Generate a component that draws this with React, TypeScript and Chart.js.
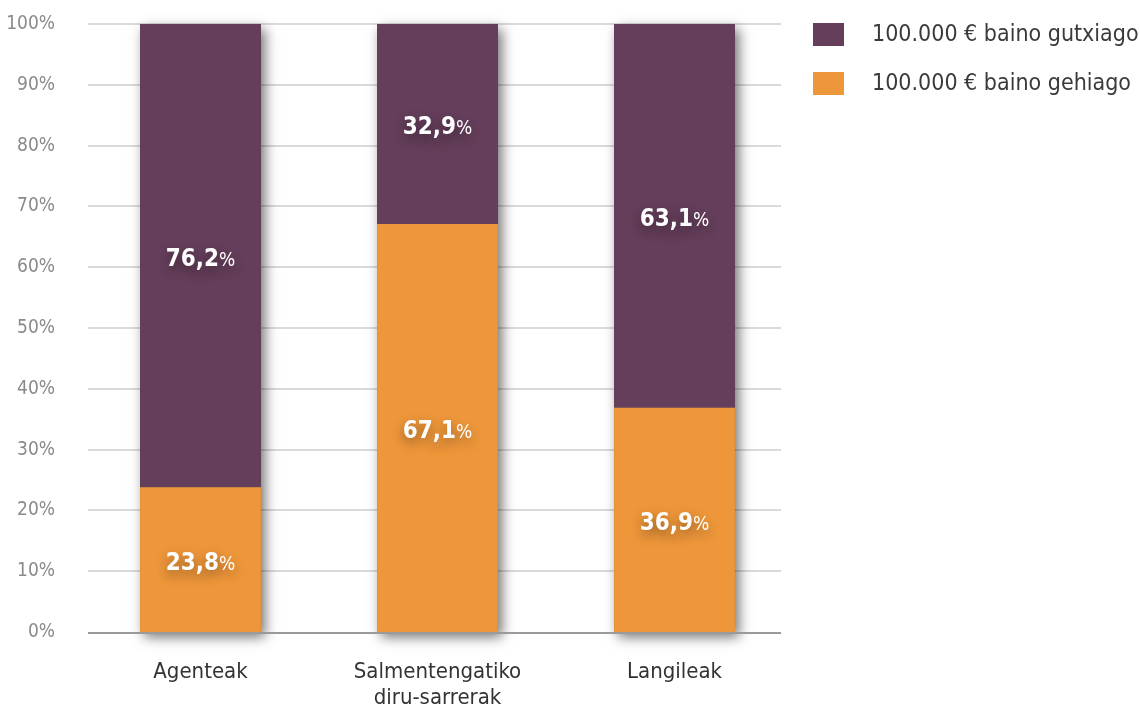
import React, { useEffect, useRef } from 'react';
import { Chart, registerables } from 'chart.js';

Chart.register(...registerables);

const categories: (string | string[])[] = ['Agenteak', ['Salmentengatiko', 'diru-sarrerak'], 'Langileak'];
const seriesNames = ['100.000 € baino gutxiago', '100.000 € baino gehiago'];
const lessThan = [76.2, 32.9, 63.1];
const moreThan = [23.8, 67.1, 36.9];
const yTickValues = [0, 10, 20, 30, 40, 50, 60, 70, 80, 90, 100];

const PURPLE = '#643e5a';
const ORANGE = '#ed963a';
const FONT = "'DejaVu Sans Condensed', 'DejaVu Sans', sans-serif";

const fmt = (v: number) => v.toFixed(1).replace('.', ',');

const decor = {
  id: 'decor',
  beforeDatasetsDraw(chart: any) {
    const { ctx, chartArea } = chart;
    const y = chart.scales.y;
    const x0 = chartArea.left + 6;
    const x1 = chartArea.right - 12;
    ctx.save();
    ctx.strokeStyle = '#dadada';
    ctx.lineWidth = 2;
    yTickValues.forEach((v) => {
      if (v === 0) return;
      const py = Math.round(y.getPixelForValue(v));
      ctx.beginPath();
      ctx.moveTo(x0, py);
      ctx.lineTo(x1, py);
      ctx.stroke();
    });
    const m0 = chart.getDatasetMeta(0);
    const m1 = chart.getDatasetMeta(1);
    m0.data.forEach((bar: any, i: number) => {
      const p = bar.getProps(['x', 'base', 'width'], true);
      const top = m1.data[i].getProps(['y'], true).y;
      ctx.save();
      ctx.shadowColor = 'rgba(0,0,0,0.55)';
      ctx.shadowBlur = 12;
      ctx.shadowOffsetX = 4;
      ctx.shadowOffsetY = 5;
      ctx.fillStyle = '#666';
      ctx.fillRect(p.x - p.width / 2, top, p.width, p.base - top);
      ctx.restore();
    });
    ctx.restore();
  },
  afterDatasetsDraw(chart: any) {
    const { ctx, chartArea } = chart;
    const y = chart.scales.y;
    ctx.save();
    ctx.strokeStyle = '#9a9a9a';
    ctx.lineWidth = 2;
    const py = Math.round(y.getPixelForValue(0)) + 1;
    ctx.beginPath();
    ctx.moveTo(chartArea.left + 6, py);
    ctx.lineTo(chartArea.right - 12, py);
    ctx.stroke();

    chart.data.datasets.forEach((ds: any, di: number) => {
      const meta = chart.getDatasetMeta(di);
      meta.data.forEach((bar: any, i: number) => {
        const p = bar.getProps(['x', 'y', 'base'], true);
        const cy = (p.y + p.base) / 2;
        const num = fmt(ds.data[i]);
        ctx.font = `bold 24px ${FONT}`;
        const wNum = ctx.measureText(num).width;
        ctx.font = `normal 19px ${FONT}`;
        const wPct = ctx.measureText('%').width;
        const start = p.x - (wNum + wPct) / 2;
        ctx.save();
        ctx.shadowColor = 'rgba(0,0,0,0.4)';
        ctx.shadowBlur = 12;
        ctx.shadowOffsetX = 0;
        ctx.shadowOffsetY = 5;
        ctx.fillStyle = '#ffffff';
        ctx.textBaseline = 'alphabetic';
        ctx.textAlign = 'left';
        const base = cy + 10;
        ctx.font = `bold 24px ${FONT}`;
        ctx.fillText(num, start, base);
        ctx.font = `normal 19px ${FONT}`;
        ctx.fillText('%', start + wNum, base);
        ctx.restore();
      });
    });
    ctx.restore();
  },
  afterDraw(chart: any) {
    const { ctx } = chart;
    const items = [
      { label: seriesNames[0], color: PURPLE },
      { label: seriesNames[1], color: ORANGE },
    ];
    ctx.save();
    items.forEach((it, i) => {
      const top = 23 + i * 49;
      ctx.fillStyle = it.color;
      ctx.fillRect(813, top, 31, 23);
      ctx.fillStyle = '#3a3a3a';
      ctx.font = `normal 23px ${FONT}`;
      ctx.textBaseline = 'middle';
      ctx.textAlign = 'left';
      ctx.fillText(it.label, 872, top + 12);
    });
    ctx.restore();
  },
};

export default function App() {
  const ref = useRef<HTMLCanvasElement | null>(null);
  useEffect(() => {
    if (!ref.current) return;
    const chart = new Chart(ref.current, {
      type: 'bar',
      data: {
        labels: categories as any,
        datasets: [
          {
            label: seriesNames[1],
            data: moreThan,
            backgroundColor: ORANGE,
            barPercentage: 0.51,
            categoryPercentage: 1,
          },
          {
            label: seriesNames[0],
            data: lessThan,
            backgroundColor: PURPLE,
            barPercentage: 0.51,
            categoryPercentage: 1,
          },
        ],
      },
      options: {
        responsive: false,
        animation: false,
        layout: { padding: { left: 0, right: 347, top: 24, bottom: 0 } },
        plugins: {
          legend: { display: false },
          tooltip: { enabled: false },
        },
        scales: {
          x: {
            stacked: true,
            grid: { display: false, drawTicks: false },
            border: { display: false },
            ticks: {
              color: '#333333',
              font: { family: FONT, size: 22, lineHeight: 1.15 },
              padding: 28,
              maxRotation: 0,
              autoSkip: false,
            },
            afterFit: (s: any) => {
              s.height = 78;
            },
          },
          y: {
            stacked: true,
            min: 0,
            max: 100,
            grid: { display: false, drawTicks: false },
            border: { display: false },
            ticks: {
              stepSize: 10,
              color: '#8a8a8a',
              font: { family: FONT, size: 19 },
              padding: 27,
              callback: (v: any) => `${v}%`,
            },
            afterFit: (s: any) => {
              s.width = 82;
              s.paddingTop = 12;
              s.paddingBottom = 12;
            },
          },
        },
      },
      plugins: [decor],
    });
    return () => chart.destroy();
  }, []);
  return (
    <div style={{ position: 'absolute', left: 0, top: 0, width: 1140, height: 710, background: '#fff' }}>
      <canvas ref={ref} width={1140} height={710} />
    </div>
  );
}
